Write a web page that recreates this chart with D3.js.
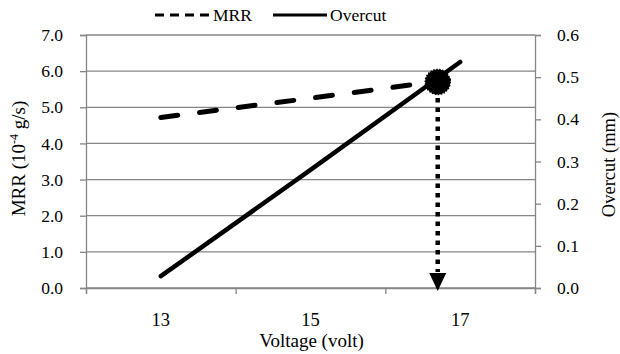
<!DOCTYPE html>
<html>
<head>
<meta charset="utf-8">
<script src="https://cdn.jsdelivr.net/npm/d3@7"></script>
<style>
  body { margin: 0; background: #fff; }
</style>
</head>
<body>
<div id="chart"></div>
<script>
(function () {

  // Data
  const voltage = [13, 15, 17];
  const mrr = [4.72, 5.25, 5.8];          // 10^-4 g/s
  const overcut = [0.028, 0.28, 0.536];   // mm
  const leftTicks = [0, 1, 2, 3, 4, 5, 6, 7];
  const rightTicks = [0, 0.1, 0.2, 0.3, 0.4, 0.5, 0.6];
  const xLabels = [13, 15, 17];
  const xTickMarks = [12, 14, 16, 18];
  const optimum = { voltage: 16.7, mrr: 5.7 };

  const W = 620, H = 354;
  const FONT = "'Liberation Serif', 'Times New Roman', serif";
  const margin = { top: 35, right: 85, bottom: 66, left: 86 },
        width = W - margin.left - margin.right,
        height = H - margin.top - margin.bottom;

  const svg = d3.select("#chart")
    .append("svg")
    .attr("width", W)
    .attr("height", H)
    .style("font-family", FONT);

  const g = svg.append("g")
    .attr("transform", `translate(${margin.left},${margin.top})`);

  const x = d3.scaleLinear().domain([12, 18]).range([0, width]);
  const yL = d3.scaleLinear().domain([0, 7]).range([height, 0]);
  const yR = d3.scaleLinear().domain([0, 0.6]).range([height, 0]);

  const axisColor = "#868686";

  // Gridlines
  g.selectAll(".grid")
    .data(leftTicks)
    .enter()
    .append("line")
    .attr("x1", 0)
    .attr("x2", width)
    .attr("y1", d => yL(d))
    .attr("y2", d => yL(d))
    .attr("stroke", axisColor)
    .attr("stroke-width", 1.3);

  function styleAxis(sel) {
    sel.attr("font-family", null);
    sel.select(".domain").attr("stroke", axisColor).attr("stroke-width", 1.3);
    sel.selectAll(".tick line").attr("stroke", axisColor).attr("stroke-width", 1.3);
    sel.selectAll(".tick text")
      .style("font-size", "17.5px")
      .style("font-family", FONT)
      .attr("fill", "#000");
  }

  // Left axis
  g.append("g")
    .call(d3.axisLeft(yL).tickValues(leftTicks).tickFormat(d3.format(".1f")).tickSize(6).tickPadding(17))
    .call(styleAxis);

  // Right axis
  g.append("g")
    .attr("transform", `translate(${width},0)`)
    .call(d3.axisRight(yR).tickValues(rightTicks).tickFormat(d3.format(".1f")).tickSize(6).tickPadding(16))
    .call(styleAxis);

  // Bottom axis: tick marks between categories, labels on categories
  g.append("g")
    .attr("transform", `translate(0,${height})`)
    .call(d3.axisBottom(x).tickValues(xTickMarks).tickFormat("").tickSize(6))
    .call(styleAxis);

  g.selectAll(".xlab")
    .data(xLabels)
    .enter()
    .append("text")
    .attr("x", d => x(d))
    .attr("y", height + 38)
    .attr("text-anchor", "middle")
    .style("font-family", FONT)
    .style("font-size", "18.5px")
    .text(d => d);

  // Lines
  const mrrLine = d3.line().x((d, i) => x(voltage[i])).y(d => yL(d));
  const ocLine = d3.line().x((d, i) => x(voltage[i])).y(d => yR(d));

  g.append("path")
    .datum(overcut)
    .attr("d", ocLine)
    .attr("fill", "none")
    .attr("stroke", "#000")
    .attr("stroke-width", 4.5)
    .attr("stroke-linecap", "round");

  g.append("path")
    .datum(mrr)
    .attr("d", mrrLine)
    .attr("fill", "none")
    .attr("stroke", "#000")
    .attr("stroke-width", 5)
    .attr("stroke-linecap", "round")
    .attr("stroke-dasharray", "17,22");

  // Optimum marker with dotted arrow down to x axis
  const ox = x(optimum.voltage), oy = yL(optimum.mrr);
  g.append("line")
    .attr("x1", ox).attr("x2", ox)
    .attr("y1", oy + 16).attr("y2", height - 16)
    .attr("stroke", "#000")
    .attr("stroke-width", 4.5)
    .attr("stroke-dasharray", "4.5,5");

  g.append("path")
    .attr("d", `M${ox - 8.5},${height - 15} L${ox + 8.5},${height - 15} L${ox},${height + 3} Z`)
    .attr("fill", "#000");

  g.append("circle")
    .attr("cx", ox)
    .attr("cy", oy)
    .attr("r", 12.5)
    .attr("fill", "#000")
    .attr("stroke", "#000")
    .attr("stroke-width", 1.5)
    .attr("stroke-dasharray", "1.5,1.5");

  // Axis titles
  svg.append("text")
    .attr("x", margin.left + width / 2 + 1)
    .attr("y", H - 7)
    .attr("text-anchor", "middle")
    .style("font-family", FONT)
    .style("font-size", "19px")
    .text("Voltage (volt)");

  const lt = svg.append("text")
    .attr("transform", `translate(25,${margin.top + height / 2 - 3}) rotate(-90)`)
    .attr("text-anchor", "middle")
    .style("font-family", FONT)
    .style("font-size", "19px");
  lt.append("tspan").text("MRR (10");
  lt.append("tspan").attr("dy", -7).style("font-size", "12px").text("-4");
  lt.append("tspan").attr("dy", 7).text(" g/s)");

  svg.append("text")
    .attr("transform", `translate(615,${margin.top + height / 2 + 3}) rotate(-90)`)
    .attr("text-anchor", "middle")
    .style("font-family", FONT)
    .style("font-size", "18.5px")
    .text("Overcut (mm)");

  // Legend
  const lg = svg.append("g");
  lg.append("line")
    .attr("x1", 155).attr("x2", 210).attr("y1", 15).attr("y2", 15)
    .attr("stroke", "#000").attr("stroke-width", 3)
    .attr("stroke-dasharray", "9,6");
  lg.append("text").attr("x", 213).attr("y", 21)
    .style("font-family", FONT).style("font-size", "17.5px").text("MRR");
  lg.append("line")
    .attr("x1", 273).attr("x2", 327).attr("y1", 15).attr("y2", 15)
    .attr("stroke", "#000").attr("stroke-width", 3);
  lg.append("text").attr("x", 330).attr("y", 21)
    .style("font-family", FONT).style("font-size", "17.5px").text("Overcut");

})();
</script>
</body>
</html>
